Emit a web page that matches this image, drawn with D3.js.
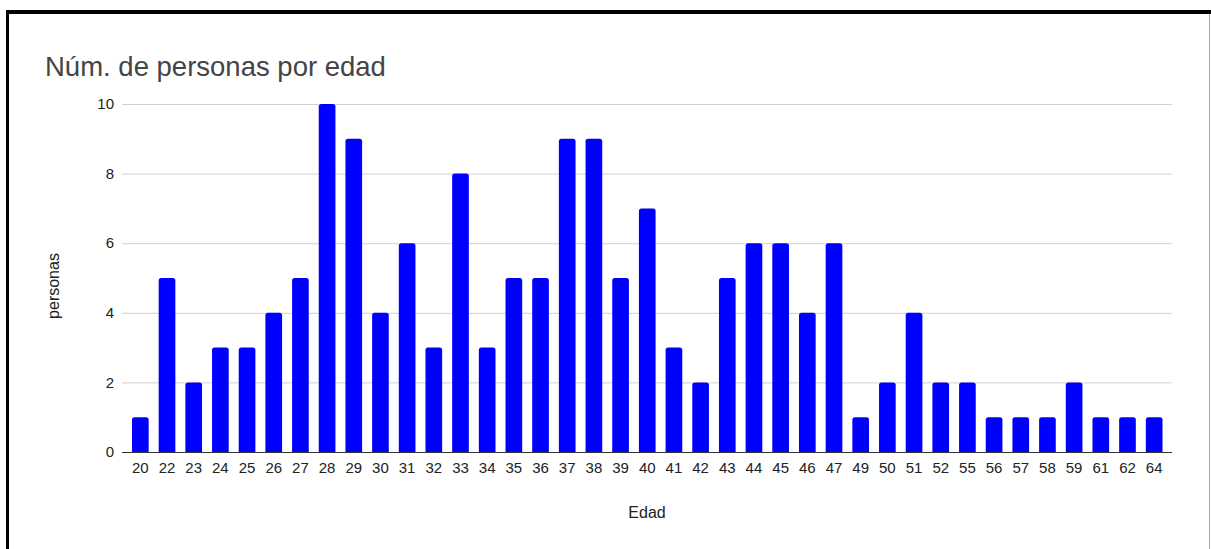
<!DOCTYPE html>
<html><head><meta charset="utf-8">
<script src="https://cdn.jsdelivr.net/npm/d3@7"></script>
<style>
html,body{margin:0;padding:0;background:#fff;}
svg{display:block;font-family:"Liberation Sans",Arial,sans-serif;}
</style></head>
<body><svg id="c" width="1211" height="549"></svg>
<script>
const ages = ["20","22","23","24","25","26","27","28","29","30","31","32","33","34","35","36","37","38","39","40","41","42","43","44","45","46","47","49","50","51","52","55","56","57","58","59","61","62","64"];
const counts = [1,5,2,3,3,4,5,10,9,4,6,3,8,3,5,5,9,9,5,7,3,2,5,6,6,4,6,1,2,4,2,2,1,1,1,2,1,1,1];
const yTicks = [0,2,4,6,8,10];
const title = "Núm. de personas por edad";
const xTitle = "Edad";
const yTitle = "personas";

const svg = d3.select("#c");
// frame
svg.append("rect").attr("x",6).attr("y",10).attr("width",1205).attr("height",4).attr("fill","#000");
svg.append("rect").attr("x",6).attr("y",10).attr("width",3).attr("height",539).attr("fill","#000");
svg.append("rect").attr("x",1209).attr("y",14).attr("width",1).attr("height",535).attr("fill","#aaa");

const x = d3.scaleBand().domain(ages).range([127,1167.5]).paddingInner(0.375).paddingOuter(0.1875);
const y = d3.scaleLinear().domain([0,10]).range([452,104]);

// gridlines
svg.append("g").selectAll("line").data(yTicks.filter(d=>d>0)).join("line")
  .attr("x1",122).attr("x2",1172).attr("y1",d=>y(d)+0.5).attr("y2",d=>y(d)+0.5)
  .attr("stroke","#d0d0d0").attr("stroke-width",1);

// y tick labels
svg.append("g").selectAll("text").data(yTicks).join("text")
  .attr("x",114).attr("y",d=>y(d)).attr("dy","0.35em").attr("text-anchor","end")
  .attr("font-size",15).attr("fill","#222").text(d=>d);

// bars with rounded tops
svg.append("g").selectAll("path").data(ages.map((a,i)=>({a,v:counts[i]}))).join("path")
  .attr("fill","#0000ff")
  .attr("d",d=>{
    const x0=x(d.a), w=x.bandwidth(), y0=y(d.v), yb=y(0), r=2.5;
    return `M${x0},${yb}V${y0+r}Q${x0},${y0} ${x0+r},${y0}H${x0+w-r}Q${x0+w},${y0} ${x0+w},${y0+r}V${yb}Z`;
  });

// baseline
svg.append("line").attr("x1",122).attr("x2",1172).attr("y1",452.5).attr("y2",452.5)
  .attr("stroke","#333").attr("stroke-width",1);

// x tick labels
svg.append("g").selectAll("text").data(ages).join("text")
  .attr("x",d=>x(d)+x.bandwidth()/2).attr("y",468).attr("dy","0.35em").attr("text-anchor","middle")
  .attr("font-size",15).attr("fill","#222").text(d=>d);

// titles
svg.append("text").attr("x",45).attr("y",76).attr("font-size",27.5).attr("fill","#444").text(title);
svg.append("text").attr("x",647).attr("y",512).attr("dy","0.35em").attr("text-anchor","middle")
  .attr("font-size",16).attr("fill","#222").text(xTitle);
svg.append("text").attr("transform","translate(53,286) rotate(-90)").attr("dy","0.35em").attr("text-anchor","middle")
  .attr("font-size",16).attr("fill","#222").text(yTitle);
</script></body></html>
